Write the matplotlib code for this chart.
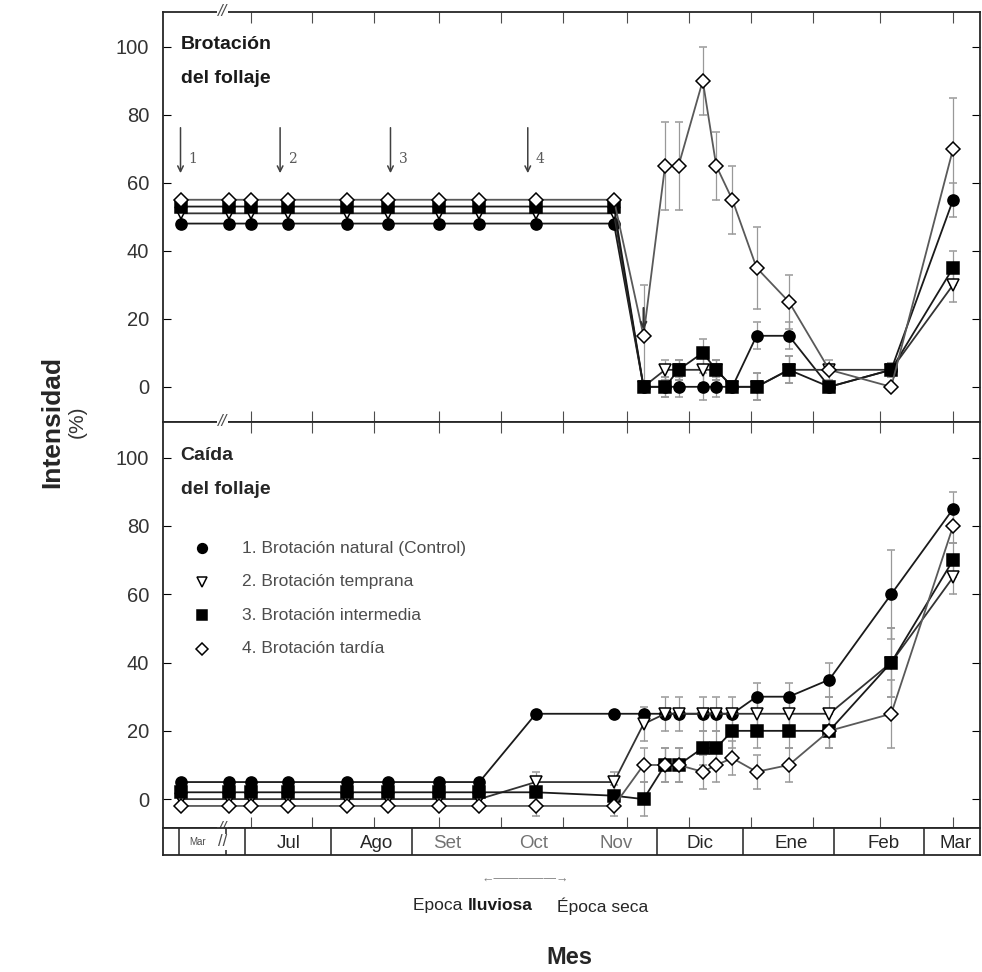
import matplotlib.pyplot as plt
from matplotlib.transforms import blended_transform_factory

plt.rcParams['font.family'] = ['Liberation Sans', 'DejaVu Sans']

# sampling dates, days counted from 1 July (first point is the March sample before the break)
dias = [-24, -6, 2, 16, 38, 53, 72, 87, 108, 137, 148, 156, 161, 170, 175, 181, 190, 202, 217, 240, 263]

# foliage flushing (%), one list per treatment
brot_natural = [48, 48, 48, 48, 48, 48, 48, 48, 48, 48, 0, 0, 0, 0, 0, 0, 15, 15, 0, 5, 55]
brot_temprana = [51, 51, 51, 51, 51, 51, 51, 51, 51, 51, 0, 5, 5, 5, 5, 0, 0, 5, 5, 5, 30]
brot_intermedia = [53, 53, 53, 53, 53, 53, 53, 53, 53, 53, 0, 0, 5, 10, 5, 0, 0, 5, 0, 5, 35]
brot_tardia = [55, 55, 55, 55, 55, 55, 55, 55, 55, 55, 15, 65, 65, 90, 65, 55, 35, 25, 5, 0, 70]
err_brot_tardia = [0, 0, 0, 0, 0, 0, 0, 0, 0, 0, 15, 13, 13, 10, 10, 10, 12, 8, 3, 0, 15]
err_brot_negros = [0, 0, 0, 0, 0, 0, 0, 0, 0, 0, 0, 3, 3, 4, 3, 0, 4, 4, 0, 2, 5]

# foliage fall (%)
caida_natural = [5, 5, 5, 5, 5, 5, 5, 5, 25, 25, 25, 25, 25, 25, 25, 25, 30, 30, 35, 60, 85]
caida_temprana = [0, 0, 0, 0, 0, 0, 0, 0, 5, 5, 22, 25, 25, 25, 25, 25, 25, 25, 25, 40, 65]
caida_intermedia = [2, 2, 2, 2, 2, 2, 2, 2, 2, 1, 0, 10, 10, 15, 15, 20, 20, 20, 20, 40, 70]
caida_tardia = [-2, -2, -2, -2, -2, -2, -2, -2, -2, -2, 10, 10, 10, 8, 10, 12, 8, 10, 20, 25, 80]
err_caida_natural = [0, 0, 0, 0, 0, 0, 0, 0, 0, 0, 0, 0, 0, 0, 0, 0, 4, 4, 5, 13, 5]
err_caida_otros = [0, 0, 0, 0, 0, 0, 0, 0, 3, 3, 5, 5, 5, 5, 5, 5, 5, 5, 5, 10, 5]

# treatment start arrows
flechas_x = [-24, 13, 54, 105]
flechas_txt = ['1', '2', '3', '4']

# month strip
limites_mes = [-24.5, -7, 0, 32, 62, 153, 185, 218.6, 252]
meses = ['Mar', 'Jul', 'Ago', 'Set', 'Oct', 'Nov', 'Dic', 'Ene', 'Feb', 'Mar']
meses_x = [-17.5, 16, 49, 75, 107, 138, 169, 203, 237, 264]
ticks_sup = [2, 25, 48, 72, 95, 118, 142, 165, 188, 211, 236, 263]

etiquetas = ['1. Brotación natural (Control)', '2. Brotación temprana',
             '3. Brotación intermedia', '4. Brotación tardía']

XMIN, XMAX = -30.5, 273
BREAK_X = -8.5

estilos = [
    dict(marker='o', mfc='black', mec='black', color='0.1'),
    dict(marker='v', mfc='white', mec='black', color='0.2'),
    dict(marker='s', mfc='black', mec='black', color='0.1'),
    dict(marker='D', mfc='white', mec='black', color='0.35'),
]


def panel(ax, series, errores, ylim):
    for y, e, st in zip(series, errores, estilos):
        ms = 7 if st['marker'] == 'D' else 8
        ax.errorbar(dias, y, yerr=e, lw=1.3, ms=ms, mew=1.1, ecolor='0.6',
                    elinewidth=0.9, capsize=3, **st)
    ax.set_xlim(XMIN, XMAX)
    ax.set_ylim(*ylim)
    ax.set_yticks([0, 20, 40, 60, 80, 100])
    ax.set_xticks(ticks_sup)
    ax.tick_params(axis='y', which='both', direction='in', right=True, length=6,
                   labelsize=14.5, labelcolor='0.2', pad=10)
    ax.tick_params(axis='x', direction='in', top=True, bottom=True, length=8,
                   labelbottom=False, color='0.3')
    for s in ax.spines.values():
        s.set_linewidth(1.3)
        s.set_color('0.15')
    tr = blended_transform_factory(ax.transData, ax.transAxes)
    for yy in (0, 1):
        ax.text(BREAK_X, yy, '//', transform=tr, ha='center', va='center',
                fontsize=12, color='0.3', style='italic',
                bbox=dict(fc='white', ec='none', pad=0.5))


fig = plt.figure(figsize=(9.82, 9.72), dpi=100)
ax1 = fig.add_axes([0.166, 0.566, 0.832, 0.422])
ax2 = fig.add_axes([0.166, 0.148, 0.832, 0.418])
ax3 = fig.add_axes([0.166, 0.120, 0.832, 0.028])

panel(ax1, [brot_natural, brot_temprana, brot_intermedia, brot_tardia],
      [err_brot_negros, err_brot_negros, err_brot_negros, err_brot_tardia], (-10.3, 110.3))
panel(ax2, [caida_natural, caida_temprana, caida_intermedia, caida_tardia],
      [err_caida_natural, err_caida_otros, err_caida_otros, err_caida_otros], (-8.5, 110.5))

ax1.text(-24, 103, 'Brotación\ndel follaje', fontsize=14, fontweight='bold',
         va='top', ha='left', color='0.1', linespacing=2.3)
ax2.text(-24, 103, 'Caída\ndel follaje', fontsize=14, fontweight='bold',
         va='top', ha='left', color='0.15', linespacing=2.3)

for x, t in zip(flechas_x, flechas_txt):
    ax1.annotate('', xy=(x, 62), xytext=(x, 77),
                 arrowprops=dict(arrowstyle='->', color='0.25', lw=1.1))
    ax1.text(x + 3, 67, t, fontsize=10, family='DejaVu Serif', color='0.35', va='center')
ax1.annotate('', xy=(148, 16), xytext=(148, 24),
             arrowprops=dict(arrowstyle='->', color='0.2', lw=1.5))

# legend drawn by hand inside the lower panel
for i, (st, lab) in enumerate(zip(estilos, etiquetas)):
    yy = 73.5 - i * 9.8
    ax2.plot(-16, yy, ls='none', marker=st['marker'], mfc=st['mfc'], mec=st['mec'],
             ms=7 if st['marker'] != 'D' else 6.5, mew=1.1)
    ax2.text(-1, yy, lab, fontsize=12.5, color='0.3', va='center', ha='left')

# month strip
ax3.set_xlim(XMIN, XMAX)
ax3.set_ylim(0, 1)
ax3.set_xticks([])
ax3.set_yticks([])
for s in ax3.spines.values():
    s.set_linewidth(1.3)
    s.set_color('0.15')
for b in limites_mes:
    ax3.axvline(b, color='0.2', lw=1.2)
for x, m in zip(meses_x, meses):
    if m == 'Mar' and x < 0:
        ax3.text(x, 0.5, m, fontsize=7, ha='center', va='center', color='0.3')
    else:
        c = '0.45' if m in ('Set', 'Oct', 'Nov') else '0.15'
        ax3.text(x, 0.45, m, fontsize=13.5, ha='center', va='center', color=c)
ax3.text(BREAK_X, 0.5, '//', fontsize=12, ha='center', va='center', color='0.3',
         bbox=dict(fc='white', ec='none', pad=0.3))

fig.text(0.053, 0.566, 'Intensidad', rotation=90, fontsize=19, fontweight='bold',
         ha='center', va='center', color='0.15')
fig.text(0.079, 0.566, '(%)', rotation=90, fontsize=15, ha='center', va='center', color='0.2')

fig.text(0.535, 0.095, '←—————→', fontsize=9, ha='center', va='center', color='0.5')
fig.text(0.476, 0.068, 'Epoca ', fontsize=12.5, ha='right', va='center', color='0.15')
fig.text(0.476, 0.068, 'lluviosa', fontsize=12.5, ha='left', va='center',
         fontweight='bold', color='0.1')
fig.text(0.567, 0.068, 'Época seca', fontsize=12.5, ha='left', va='center', color='0.15')
fig.text(0.58, 0.003, 'Mes', fontsize=17, ha='center', va='bottom', fontweight='bold',
         color='0.15')

fig.savefig('out.png', dpi=100)
